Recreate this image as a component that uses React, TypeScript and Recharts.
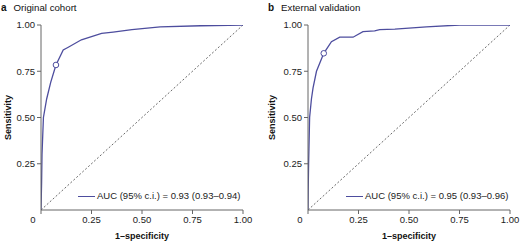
import { ComposedChart, Line, Scatter, XAxis, YAxis, Label } from "recharts";

const xTicks = [0, 0.25, 0.5, 0.75, 1];
const yTicks = [0.25, 0.5, 0.75, 1];

// a: original cohort ROC curve
const origFpr = [0, 0.003, 0.005, 0.012, 0.028, 0.048, 0.074, 0.11, 0.135, 0.2, 0.3, 0.357, 0.45, 0.59, 0.79, 1];
const origTpr = [0, 0.15, 0.3, 0.5, 0.6, 0.69, 0.784, 0.865, 0.88, 0.92, 0.955, 0.962, 0.975, 0.99, 0.996, 1];
const origCutoff = [{ fpr: 0.074, tpr: 0.784 }];

// b: external validation ROC curve
const extFpr = [0, 0.001, 0.003, 0.008, 0.017, 0.025, 0.042, 0.078, 0.116, 0.157, 0.223, 0.272, 0.33, 0.355, 0.43, 0.586, 0.75, 1];
const extTpr = [0, 0.11, 0.25, 0.5, 0.6, 0.66, 0.75, 0.847, 0.91, 0.934, 0.934, 0.964, 0.968, 0.975, 0.978, 0.99, 1, 1];
const extCutoff = [{ fpr: 0.078, tpr: 0.847 }];

const chance = [0, 1];

const BLUE = "#4d4d9e";
const AXIS = "#666";
const FONT = '"Liberation Sans", Arial, sans-serif';

const toRows = (fpr: number[], tpr: number[]) => fpr.map((f, i) => ({ fpr: f, tpr: tpr[i] }));
const chanceRows = chance.map((v) => ({ fpr: v, tpr: v }));

const XTick = ({ x, y, payload }: any) => (
  <text
    x={payload.value === 0 ? x - 8 : x}
    y={y}
    dy="0.75em"
    textAnchor="middle"
    fontSize={9.5}
    fill="#222"
    fontFamily={FONT}
  >
    {payload.value === 0 ? "0" : payload.value.toFixed(2)}
  </text>
);

interface PanelProps {
  letter: string;
  title: string;
  fpr: number[];
  tpr: number[];
  cutoff: { fpr: number; tpr: number }[];
  auc: string;
  left: number;
  right: number;
  yLabelX: number;
  legendX: number;
}

function Panel({ letter, title, fpr, tpr, cutoff, auc, left, right, yLabelX, legendX }: PanelProps) {
  const rows = toRows(fpr, tpr);
  return (
    <div style={{ position: "relative", width: 260, height: 241 }}>
      <div
        style={{
          position: "absolute",
          left: left - 41 + 1,
          top: 2,
          fontFamily: FONT,
          fontSize: 9.7,
          color: "#111",
          whiteSpace: "nowrap",
          lineHeight: "12px",
        }}
      >
        <b style={{ fontSize: 10 }}>{letter}</b>
        <span style={{ marginLeft: 7 }}>{title}</span>
      </div>
      {/* legend */}
      <div
        style={{
          position: "absolute",
          left: legendX,
          top: 190,
          display: "flex",
          alignItems: "center",
          fontFamily: FONT,
          fontSize: 9.5,
          color: "#222",
          lineHeight: "12px",
          whiteSpace: "nowrap",
          zIndex: 2,
        }}
      >
        <span style={{ display: "inline-block", width: 17, height: 0, borderTop: `1.2px solid ${BLUE}`, marginRight: 2 }} />
        <span>{auc}</span>
      </div>
      <ComposedChart width={260} height={241} margin={{ top: 25, right: right, bottom: 1, left: left - 30 }}>
        <XAxis
          type="number"
          dataKey="fpr"
          domain={[0, 1]}
          ticks={xTicks}
          tickSize={4}
          tickMargin={2}
          height={30}
          stroke={AXIS}
          tick={<XTick />}
          allowDataOverflow
        >
          <Label
            content={({ viewBox }: any) => (
              <text
                x={viewBox.x + viewBox.width / 2}
                y={239}
                textAnchor="middle"
                fontSize={9}
                fontWeight="bold"
                fontFamily={FONT}
                fill="#111"
              >
                1–specificity
              </text>
            )}
          />
        </XAxis>
        <YAxis
          type="number"
          dataKey="tpr"
          domain={[0, 1]}
          ticks={yTicks}
          width={30}
          tickSize={4}
          tickMargin={2}
          stroke={AXIS}
          tick={{ fontSize: 9.5, fill: "#222", fontFamily: FONT }}
          tickFormatter={(v: number) => v.toFixed(2)}
          allowDataOverflow
        >
          <Label
            content={() => (
              <text
                x={yLabelX}
                y={117.5}
                transform={`rotate(-90, ${yLabelX}, 117.5)`}
                textAnchor="middle"
                dominantBaseline="central"
                fontSize={9}
                fontWeight="bold"
                fontFamily={FONT}
                fill="#111"
              >
                Sensitivity
              </text>
            )}
          />
        </YAxis>
        <Line
          data={chanceRows}
          dataKey="tpr"
          stroke="#444"
          strokeWidth={0.8}
          strokeDasharray="2 2"
          dot={false}
          activeDot={false}
          isAnimationActive={false}
        />
        <Line
          data={rows}
          dataKey="tpr"
          stroke={BLUE}
          strokeWidth={1.3}
          dot={false}
          activeDot={false}
          isAnimationActive={false}
        />
        <Scatter
          data={cutoff}
          dataKey="tpr"
          isAnimationActive={false}
          shape={(p: any) => <circle cx={p.cx} cy={p.cy} r={2.8} fill="#fff" stroke={BLUE} strokeWidth={1} />}
        />
      </ComposedChart>
    </div>
  );
}

export default function App() {
  return (
    <div style={{ position: "fixed", left: 0, top: 0, width: 520, height: 241, display: "flex", background: "#fff", overflow: "hidden" }}>
      <Panel
        letter="a"
        title="Original cohort"
        fpr={origFpr}
        tpr={origTpr}
        cutoff={origCutoff}
        auc="AUC (95% c.i.) = 0.93 (0.93–0.94)"
        left={41}
        right={17}
        yLabelX={8}
        legendX={78}
      />
      <Panel
        letter="b"
        title="External validation"
        fpr={extFpr}
        tpr={extTpr}
        cutoff={extCutoff}
        auc="AUC (95% c.i.) = 0.95 (0.93–0.96)"
        left={48}
        right={10}
        yLabelX={12}
        legendX={86}
      />
    </div>
  );
}
